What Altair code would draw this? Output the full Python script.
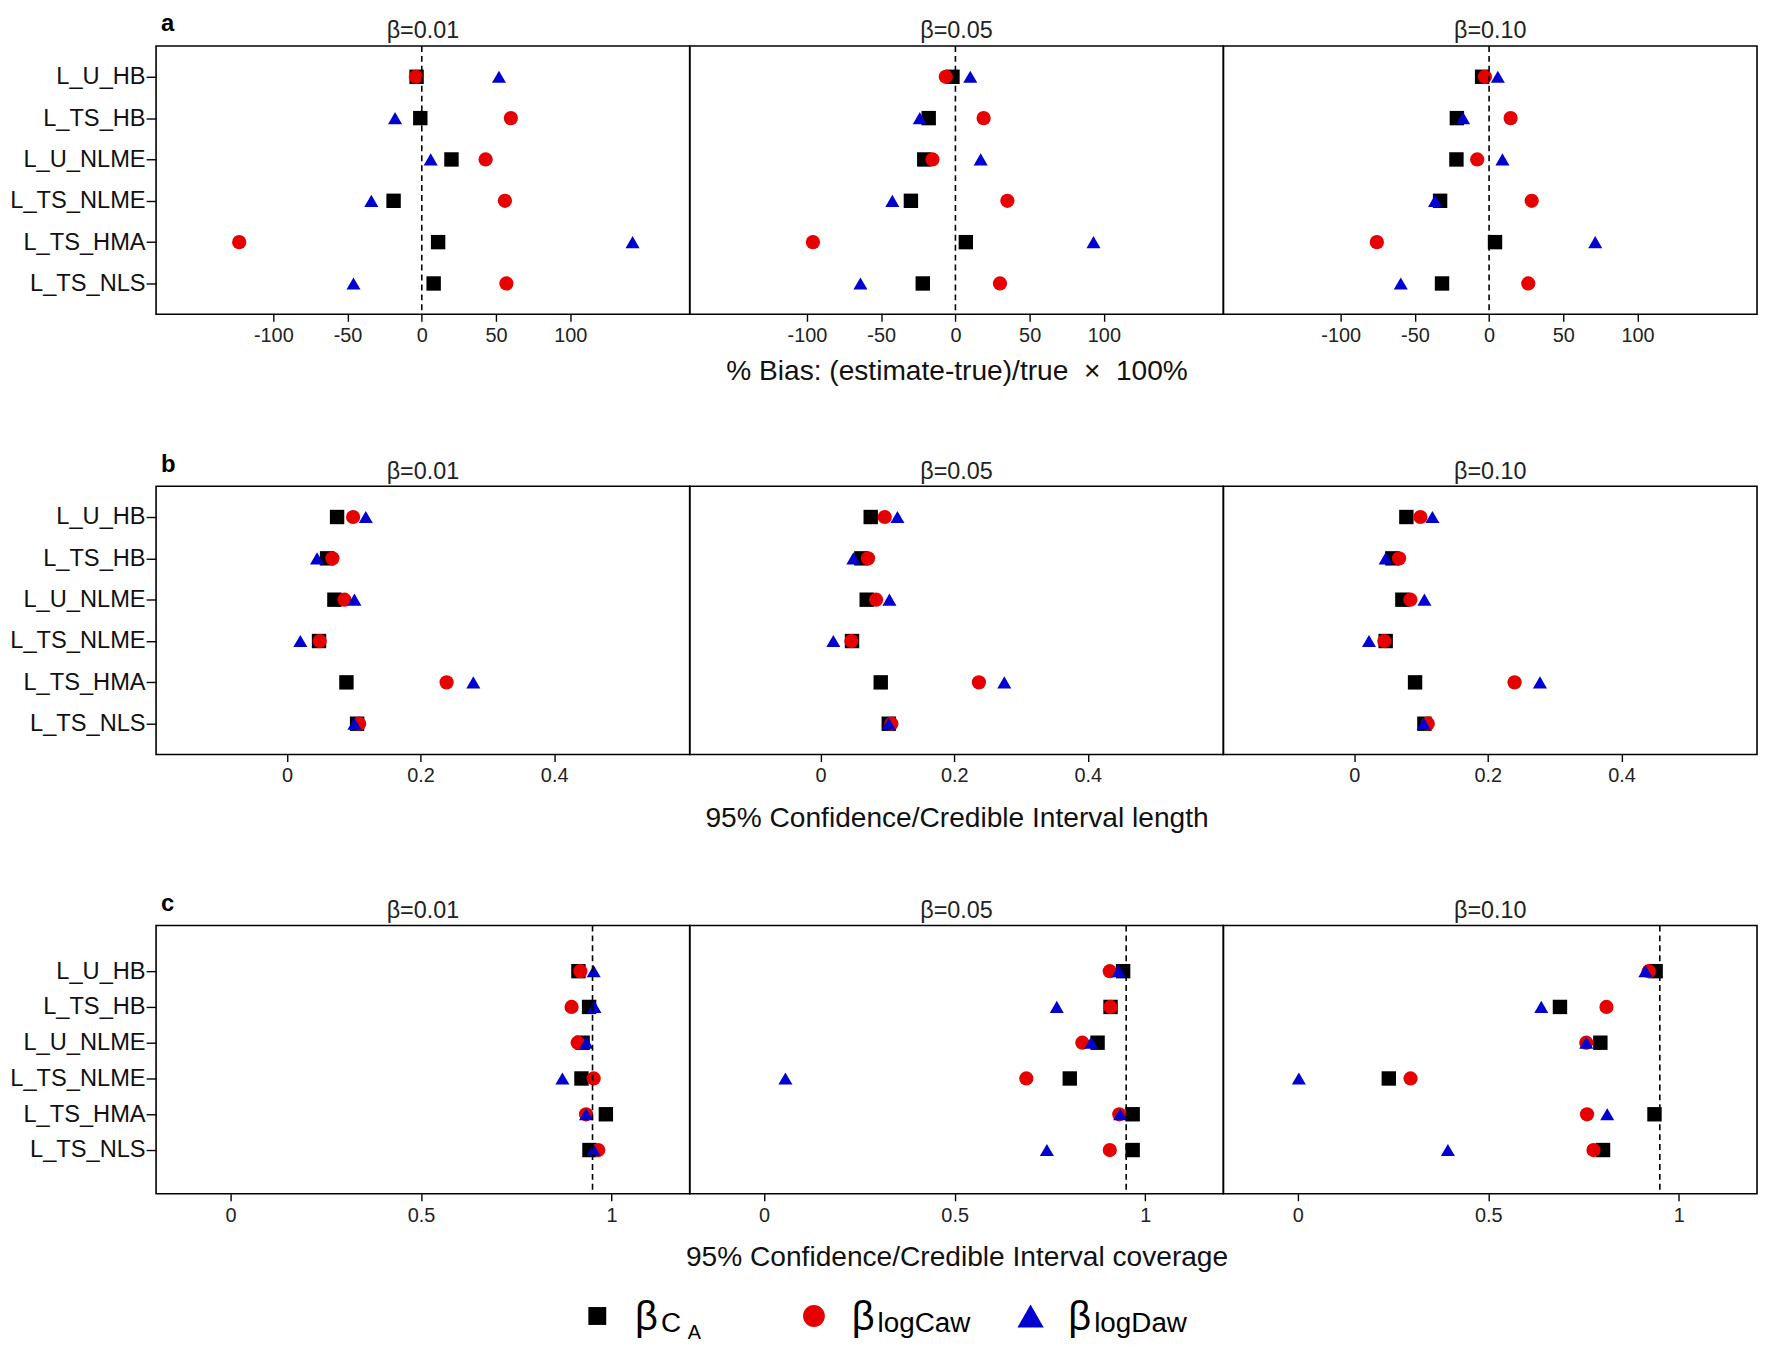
import altair as alt
import pandas as pd

FONT = "Liberation Sans, Arial, Helvetica, sans-serif"

METHODS = ["L_U_HB", "L_TS_HB", "L_U_NLME", "L_TS_NLME", "L_TS_HMA", "L_TS_NLS"]
SERIES = ["CA", "logCaw", "logDaw"]
BETAS = ["β=0.01", "β=0.05", "β=0.10"]
PANEL_LETTERS = ["a", "b", "c"]

# (a) % bias
BIAS_B001_CA = [-3.5, -1, 20, -19, 11, 8]
BIAS_B001_LOGCAW = [-4, 60, 43, 56, -123, 57]
BIAS_B001_LOGDAW = [52, -18, 6, -34, 142, -46]
BIAS_B005_CA = [-2, -18, -21, -30, 7, -22]
BIAS_B005_LOGCAW = [-6.5, 19, -15.5, 35, -96, 30]
BIAS_B005_LOGDAW = [10, -24, 17, -42.5, 93, -64]
BIAS_B010_CA = [-4.7, -21.7, -22, -33, 4, -31.7]
BIAS_B010_LOGCAW = [-2.8, 14.5, -8, 28.7, -75.6, 26.4]
BIAS_B010_LOGDAW = [5.9, -17.5, 9, -36.4, 71.5, -59.5]

# (b) interval length
LEN_B001_CA = [0.075, 0.060, 0.071, 0.048, 0.089, 0.105]
LEN_B001_LOGCAW = [0.099, 0.068, 0.086, 0.049, 0.239, 0.108]
LEN_B001_LOGDAW = [0.118, 0.045, 0.101, 0.020, 0.279, 0.101]
LEN_B005_CA = [0.075, 0.061, 0.069, 0.047, 0.090, 0.102]
LEN_B005_LOGCAW = [0.096, 0.071, 0.083, 0.046, 0.237, 0.106]
LEN_B005_LOGDAW = [0.115, 0.049, 0.103, 0.019, 0.275, 0.102]
LEN_B010_CA = [0.078, 0.057, 0.072, 0.047, 0.091, 0.105]
LEN_B010_LOGCAW = [0.099, 0.067, 0.084, 0.045, 0.240, 0.110]
LEN_B010_LOGDAW = [0.117, 0.047, 0.105, 0.022, 0.278, 0.104]

# (c) interval coverage
COV_B001_CA = [0.913, 0.941, 0.924, 0.921, 0.985, 0.942]
COV_B001_LOGCAW = [0.918, 0.895, 0.911, 0.953, 0.933, 0.965]
COV_B001_LOGDAW = [0.953, 0.955, 0.934, 0.871, 0.933, 0.953]
COV_B005_CA = [0.942, 0.909, 0.875, 0.802, 0.967, 0.967]
COV_B005_LOGCAW = [0.907, 0.909, 0.835, 0.688, 0.932, 0.907]
COV_B005_LOGDAW = [0.930, 0.768, 0.858, 0.056, 0.934, 0.742]
COV_B010_CA = [0.939, 0.688, 0.794, 0.239, 0.936, 0.801]
COV_B010_LOGCAW = [0.921, 0.810, 0.757, 0.296, 0.759, 0.776]
COV_B010_LOGDAW = [0.912, 0.639, 0.757, 0.003, 0.812, 0.394]

AXIS_TITLES = [
    "% Bias: (estimate-true)/true \u00a0×\u00a0 100%",
    "95% Confidence/Credible Interval length",
    "95% Confidence/Credible Interval coverage",
]
AXIS_TITLE_PAD = [12.5, 18.5, 18.5]
X_TICKS = [[-100, -50, 0, 50, 100], [0, 0.2, 0.4], [0, 0.5, 1]]
X_DOMAINS = [[-179, 180.5], [-0.196, 0.603], [-0.195, 1.205]]
REF_LINES = [0, None, 0.95]
# pixel range of the categorical y axis inside each 270px-tall panel
Y_RANGES = [[31, 239], [31, 239], [46, 226]]

LEGEND_SYMBOL = ["β", "β", "β"]
LEGEND_SUB1 = ["C", "logCaw", "logDaw"]
LEGEND_SUB2 = ["A", "", ""]

COLORS = ["#000000", "#e60000", "#0000d0"]
SHAPES = ["square", "circle", "triangle-up"]
SIZES = [210, 200, 360]
LEGEND_SIZES = [324, 480, 700]

PANEL_W = 537
PANEL_H = 270


def long_table(per_beta):
    rows = []
    for beta, series_lists in zip(BETAS, per_beta):
        for s, vals in zip(SERIES, series_lists):
            for m, v in zip(METHODS, vals):
                rows.append({"beta": beta, "series": s, "method": m, "value": v})
    return pd.DataFrame(rows)


TABLES = [
    long_table([
        [BIAS_B001_CA, BIAS_B001_LOGCAW, BIAS_B001_LOGDAW],
        [BIAS_B005_CA, BIAS_B005_LOGCAW, BIAS_B005_LOGDAW],
        [BIAS_B010_CA, BIAS_B010_LOGCAW, BIAS_B010_LOGDAW],
    ]),
    long_table([
        [LEN_B001_CA, LEN_B001_LOGCAW, LEN_B001_LOGDAW],
        [LEN_B005_CA, LEN_B005_LOGCAW, LEN_B005_LOGDAW],
        [LEN_B010_CA, LEN_B010_LOGCAW, LEN_B010_LOGDAW],
    ]),
    long_table([
        [COV_B001_CA, COV_B001_LOGCAW, COV_B001_LOGDAW],
        [COV_B005_CA, COV_B005_LOGCAW, COV_B005_LOGDAW],
        [COV_B010_CA, COV_B010_LOGCAW, COV_B010_LOGDAW],
    ]),
]


def make_panel(r, col):
    df = TABLES[r]
    beta = BETAS[col]
    sub = df[df["beta"] == beta]
    xscale = alt.Scale(domain=X_DOMAINS[r], nice=False, zero=False)
    if col == 1:
        xaxis = alt.Axis(values=X_TICKS[r], labelExpr="toString(datum.value)",
                         title=AXIS_TITLES[r], titlePadding=AXIS_TITLE_PAD[r])
    else:
        xaxis = alt.Axis(values=X_TICKS[r], labelExpr="toString(datum.value)",
                         title=None)
    yaxis = alt.Axis(title=None) if col == 0 else None
    pts = alt.Chart(sub).mark_point(filled=True, opacity=1).encode(
        x=alt.X("value:Q", scale=xscale, axis=xaxis),
        y=alt.Y("method:N", sort=METHODS,
                scale=alt.Scale(type="point", domain=METHODS, range=Y_RANGES[r], padding=0),
                axis=yaxis),
        shape=alt.Shape("series:N", scale=alt.Scale(domain=SERIES, range=SHAPES), legend=None),
        color=alt.Color("series:N", scale=alt.Scale(domain=SERIES, range=COLORS), legend=None),
        size=alt.Size("series:N", scale=alt.Scale(domain=SERIES, range=SIZES), legend=None),
    )
    layers = [pts]
    if REF_LINES[r] is not None:
        rule = alt.Chart(pd.DataFrame({"value": [REF_LINES[r]]})).mark_rule(
            strokeDash=[6, 4], strokeWidth=1.6, color="black"
        ).encode(x=alt.X("value:Q", scale=xscale, axis=xaxis))
        layers.append(rule)
    return alt.layer(*layers).properties(
        width=PANEL_W, height=PANEL_H,
        title=alt.TitleParams(beta, fontSize=23.5, fontWeight="normal", font=FONT,
                              color="#222", offset=2.5),
    )


rows = []
for r in range(3):
    panels = [make_panel(r, c) for c in range(3)]
    row = alt.hconcat(
        *panels, spacing=0, bounds="flush",
        title=alt.TitleParams(PANEL_LETTERS[r], anchor="start", frame="group",
                              baseline="alphabetic", offset=0, dx=5, dy=37,
                              fontSize=24, fontWeight="bold", font=FONT, color="black"),
    )
    rows.append(row)

grid = alt.vconcat(rows[0], alt.vconcat(rows[1], rows[2], spacing=59), spacing=67)

# legend
leg_df = pd.DataFrame({"series": SERIES, "sym": LEGEND_SYMBOL,
                       "sub1": LEGEND_SUB1, "sub2": LEGEND_SUB2})
lx = alt.X("series:N", sort=SERIES,
           scale=alt.Scale(type="point", domain=SERIES, range=[444, 880], padding=0),
           axis=None)
leg_layers = []
for s, shp, colr, sz in zip(SERIES, SHAPES, COLORS, LEGEND_SIZES):
    leg_layers.append(
        alt.Chart(leg_df).transform_filter(alt.datum.series == s).mark_point(
            shape=shp, filled=True, color=colr, size=sz, opacity=1
        ).encode(x=lx)
    )
leg_layers.append(alt.Chart(leg_df).mark_text(
    font=FONT, fontSize=40, align="left", baseline="alphabetic", dx=38, dy=14, color="black"
).encode(x=lx, text="sym:N"))
leg_layers.append(alt.Chart(leg_df).mark_text(
    font=FONT, fontSize=28, align="left", baseline="alphabetic", dx=64, dy=16, color="black"
).encode(x=lx, text="sub1:N"))
leg_layers.append(alt.Chart(leg_df).mark_text(
    font=FONT, fontSize=20, align="left", baseline="alphabetic", dx=91, dy=23, color="black"
).encode(x=lx, text="sub2:N"))
legend = alt.layer(*leg_layers).properties(
    width=1614, height=36, view=alt.ViewBackground(stroke="transparent")
)

chart = alt.vconcat(grid, legend, spacing=25).properties(
    padding={"top": 0, "left": 0, "right": 0, "bottom": 0}
).configure_view(
    stroke="black", strokeWidth=1.6
).configure_axis(
    labelFont=FONT, titleFont=FONT, domain=False, grid=False,
    tickColor="black", tickWidth=1.4, titleFontWeight="normal",
    labelColor="#222", titleColor="#111"
).configure_axisX(
    labelFontSize=20, tickSize=7, labelPadding=4.6, titleFontSize=28.3, titlePadding=11.4
).configure_axisY(
    labelFontSize=23.8, tickSize=10, labelPadding=1, labelColor="#111"
)

chart.save("out.html", embed_options={"renderer": "svg", "actions": False})
